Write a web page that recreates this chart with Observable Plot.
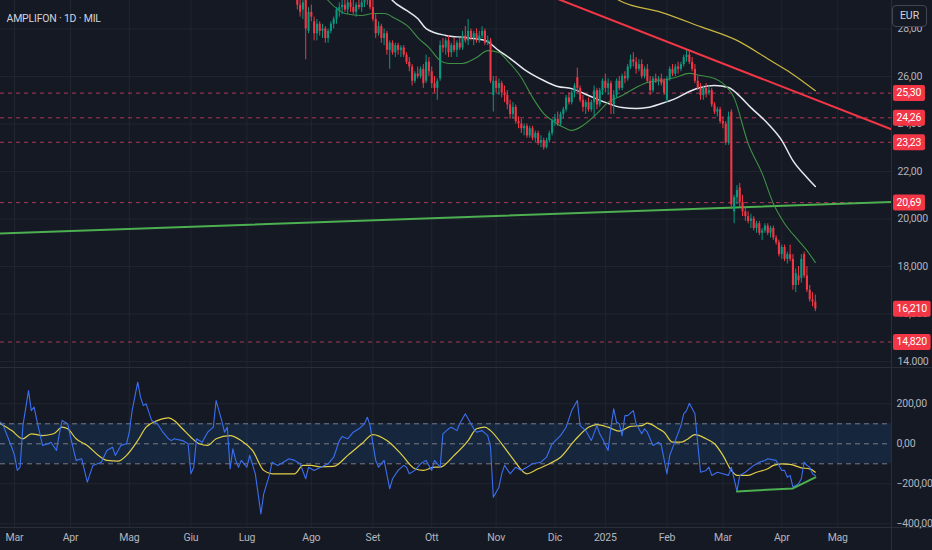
<!DOCTYPE html>
<html><head><meta charset="utf-8">
<script src="https://cdn.jsdelivr.net/npm/d3@7"></script>
<script src="https://cdn.jsdelivr.net/npm/@observablehq/plot@0.6"></script>
<style>
html,body{margin:0;padding:0;background:#151924;}
#wrap{position:relative;width:932px;height:550px;overflow:hidden;background:#151924;font-family:Roboto,"Liberation Sans",sans-serif;}
#wrap svg{position:absolute;left:0;overflow:visible;}
#wrap svg text{letter-spacing:-0.2px;}
#eur{position:absolute;left:892px;top:5px;width:35px;height:22px;border:1px solid #434651;border-radius:4px;background:#151924;color:#d1d4dc;font-size:10.5px;line-height:20px;text-align:center;box-sizing:border-box;}
</style></head><body><div id="wrap"></div>
<script>
// ---------- DATA ----------
const title = "AMPLIFON · 1D · MIL";
const firstBar = 100; // bar index of first candle (bar 0 = 1 Mar 2024)
const opens = [29.8,29.5,29.0,28.8,29.2,27.9,28.7,28.3,27.8,28.2,
 27.9,28.0,27.6,27.9,28.2,28.4,28.8,28.9,29.0,28.8,
 29.1,28.9,28.7,29.0,28.9,29.1,29.3,29.2,28.9,28.4,
 27.8,28.1,27.6,27.8,27.1,27.4,27.0,27.3,27.1,27.2,
 26.9,26.6,26.4,25.8,26.1,26.0,26.3,25.8,26.6,26.2,
 25.7,25.5,25.9,27.3,27.2,27.5,27.0,27.3,27.1,27.4,
 27.2,27.7,27.5,27.9,27.6,27.8,27.5,27.7,27.9,27.4,
 27.5,25.2,25.8,25.5,25.7,25.3,25.2,24.8,24.4,24.7,
 24.1,24.0,23.8,23.9,23.5,23.8,23.4,23.6,23.2,23.3,
 23.0,23.3,23.6,24.1,24.2,24.0,24.4,24.6,25.1,24.9,
 25.3,25.95,25.5,25.0,24.7,24.9,24.6,24.9,25.4,24.8,
 25.4,25.8,25.5,25.7,24.8,25.2,25.8,25.5,26.0,25.9,
 26.4,26.7,26.6,26.3,26.5,26.0,26.3,25.8,25.4,25.9,
 25.8,25.9,25.8,25.0,25.9,26.3,26.1,26.4,26.3,26.5,
 26.8,26.9,26.6,26.3,25.8,25.5,25.2,25.5,25.3,25.4,
 24.8,24.5,24.6,24.1,24.0,23.2,24.5,20.3,20.9,21.3,
 20.7,20.3,20.1,19.9,20.0,19.6,19.8,19.4,19.5,19.7,
 19.4,19.6,19.2,19.0,18.5,18.8,18.3,18.5,18.3,17.2,
 17.6,17.5,18.5,17.6,17.0,16.6,16.5];
const highs = [30.2,29.7,29.4,29.3,29.4,28.9,29.0,28.5,28.4,28.3,
 28.2,28.1,28.0,28.3,28.5,28.9,29.1,29.3,29.4,29.2,
 29.3,29.2,29.1,29.3,29.2,29.5,29.6,29.4,29.2,28.6,
 28.3,28.2,28.0,27.9,27.5,27.5,27.4,27.4,27.3,27.3,
 27.0,26.8,26.5,26.2,26.4,26.4,26.5,26.9,26.8,26.4,
 26.0,25.9,27.5,27.6,27.6,27.7,27.4,27.6,27.5,27.6,
 27.9,28.1,28.4,28.0,27.9,28.0,27.9,28.1,28.0,27.7,
 27.6,26.0,26.0,25.9,25.8,25.6,25.4,25.0,24.9,24.8,
 24.3,24.2,24.0,24.0,23.9,23.9,23.7,23.7,23.5,23.4,
 23.4,23.7,24.2,24.4,24.5,24.5,24.7,25.2,25.3,25.4,
 25.7,26.35,25.6,25.2,25.0,25.1,25.0,25.6,25.5,25.5,
 25.9,26.1,25.9,25.8,25.4,25.9,26.0,26.1,26.2,26.5,
 26.9,27.0,26.8,26.7,26.7,26.4,26.5,26.0,26.0,26.1,
 26.0,26.1,25.9,26.0,26.4,26.5,26.5,26.6,26.6,26.9,
 27.1,27.1,26.8,26.5,26.0,25.7,25.6,25.7,25.6,25.5,
 24.9,24.7,24.7,24.3,24.1,24.5,24.6,21.0,21.4,21.5,
 21.0,20.5,20.3,20.2,20.1,19.9,19.9,19.6,19.8,19.8,
 19.7,19.7,19.3,19.1,18.9,18.9,18.6,18.9,18.5,17.9,
 18.0,18.5,18.6,18.0,17.2,16.9,16.8];
const lows = [29.3,28.8,28.5,28.4,26.7,27.8,28.3,27.5,27.5,27.7,
 27.6,27.4,27.4,27.8,28.0,28.2,28.5,28.6,28.7,28.6,
 28.7,28.6,28.5,28.8,28.7,28.9,29.0,28.8,28.3,27.6,
 27.7,27.4,27.3,26.9,26.3,26.9,26.8,26.9,26.8,26.8,
 26.5,26.2,25.6,25.7,25.9,25.9,25.5,25.7,26.0,25.5,
 25.3,25.0,25.8,27.0,26.9,26.8,26.8,27.0,26.8,27.1,
 27.1,27.4,27.3,27.5,27.3,27.4,27.4,27.6,27.3,27.3,
 25.7,24.5,25.3,25.2,25.1,24.9,24.6,24.2,24.2,24.0,
 23.8,23.6,23.5,23.4,23.4,23.3,23.2,23.1,23.0,22.9,
 22.95,23.2,23.5,23.9,23.9,23.9,24.2,24.5,24.8,24.8,
 25.1,25.3,24.9,24.5,24.4,24.5,24.5,24.3,24.6,24.7,
 25.2,25.3,25.2,24.4,24.4,25.1,25.4,25.4,25.7,25.8,
 26.3,26.4,26.1,26.2,25.9,25.9,25.7,25.2,25.3,25.7,
 25.6,25.6,25.2,24.9,25.8,26.0,26.0,26.1,26.2,26.4,
 26.6,26.5,26.2,25.7,25.4,25.0,25.0,25.1,25.2,24.7,
 24.4,24.3,24.0,23.8,23.1,23.1,20.4,19.8,20.6,20.5,
 20.1,19.9,19.8,19.6,19.5,19.4,19.3,19.1,19.4,19.3,
 19.2,19.1,18.9,18.4,18.3,18.2,18.1,18.2,17.0,16.9,
 17.2,17.3,17.5,16.9,16.5,16.3,16.1];
const closes = [29.5,29.0,28.7,29.1,28.0,28.7,28.5,27.8,28.2,27.9,
 28.0,27.6,27.9,28.2,28.4,28.8,28.9,29.0,28.8,29.1,
 28.9,28.7,29.0,28.9,29.1,29.3,29.2,28.9,28.4,27.8,
 28.1,27.6,27.8,27.1,27.4,27.0,27.3,27.1,27.2,26.9,
 26.6,26.4,25.8,26.1,26.0,26.3,25.7,26.6,26.2,25.7,
 25.5,25.8,27.3,27.2,27.5,27.0,27.3,27.1,27.4,27.2,
 27.7,27.5,27.9,27.6,27.8,27.5,27.7,27.9,27.4,27.5,
 25.8,25.8,25.5,25.7,25.3,25.2,24.8,24.4,24.7,24.1,
 24.0,23.8,23.9,23.5,23.8,23.4,23.6,23.2,23.3,23.0,
 23.3,23.6,24.1,24.2,24.0,24.4,24.6,25.1,24.9,25.3,
 25.6,25.5,25.0,24.7,24.9,24.6,24.9,25.4,24.8,25.4,
 25.8,25.5,25.7,24.8,25.2,25.8,25.5,26.0,25.9,26.4,
 26.7,26.6,26.3,26.5,26.0,26.3,25.8,25.4,25.9,25.8,
 25.9,25.7,25.3,25.9,26.3,26.1,26.4,26.3,26.5,26.8,
 26.9,26.6,26.3,25.8,25.5,25.2,25.5,25.3,25.4,24.8,
 24.5,24.6,24.1,24.0,23.2,24.3,20.6,20.9,21.2,20.7,
 20.3,20.1,19.9,20.0,19.6,19.8,19.4,19.5,19.7,19.4,
 19.6,19.2,19.0,18.5,18.8,18.3,18.5,18.3,17.2,17.7,
 17.4,18.3,17.6,17.0,16.6,16.5,16.21];

// moving averages (bar index, price)
const maFastBars = [110,112,116,118,124,128,132,136,141,144,148,152,155,160,165,169,173,176,181,185,189,192,197,199,203,208,212,217,222,226,231,236,241,245,250,253,257,262,267,271,275,280,283,286];
const maFastVals = [29.5,29.2,28.78,28.65,28.57,28.65,28.65,28.44,28.06,27.64,27.22,26.67,26.55,26.55,26.8,27.09,27.01,26.67,25.96,25.12,24.44,24.15,23.81,23.73,23.94,24.44,24.91,25.2,25.54,25.75,25.83,25.96,26.13,26.04,25.92,25.71,25.1,23.18,21.92,20.65,19.81,19.09,18.67,18.17];
const maMidBars = [133,135,140,144,147,154,161,168,173,178,182,189,194,199,205,211,217,222,226,231,236,241,245,250,255,258,263,269,274,278,283,286];
const maMidVals = [29.5,29.2,28.78,28.44,28.02,27.73,27.64,27.52,27.09,26.67,26.3,25.83,25.58,25.49,25.2,24.91,24.69,24.65,24.69,24.86,25.07,25.37,25.54,25.62,25.54,25.28,24.69,24.02,23.31,22.46,21.75,21.37];
const maSlowBars = [212,216,231,245,258,266,270,277,286];
const maSlowVals = [29.5,29.2,28.7,28.1,27.52,26.97,26.67,26.17,25.4];

// trend lines (bar index, price)
const resistBars = [190, 320];
const resistVals = [29.45, 23.46];
const supportBars = [-10, 320];
const supportVals = [19.37, 20.75];

// horizontal levels
const levelVals = [25.30, 24.26, 23.23, 20.69, 14.82];
const levelLbls = ["25,30", "24,26", "23,23", "20,69", "14,820"];
const lastPrice = 16.21, lastLbl = "16,210";

// price axis
const priceTicks = [28, 26, 24, 22, 20, 18, 16, 14];
const priceTickLbls = ["28,00", "26,00", "24,00", "22,00", "20,000", "18,000", "16,000", "14.000"];

// time axis (bar index of first trading day of each month)
const monthBars = [0, 20, 41, 63, 83, 106, 128, 149, 172, 193, 211, 233, 253, 274, 294];
const monthLbls = ["Mar", "Apr", "Mag", "Giu", "Lug", "Ago", "Set", "Ott", "Nov", "Dic", "2025", "Feb", "Mar", "Apr", "Mag"];

// CCI line (bar index, value)
const cciBars = [-5,-4,-1,0,1,2,3,5,6,7,8,10,12,13,15,16,17,19,20,22,24,26,28,31,33,35,36,38,40,41,42,44,45,46,47,49,51,53,55,56,57,60,62,63,64,65,67,69,71,72,74,75,76,77,78,79,80,81,83,84,86,88,89,91,92,94,96,98,100,102,104,105,107,109,112,114,116,117,119,121,123,125,126,127,128,129,130,132,134,135,137,139,140,141,143,145,147,149,150,152,153,155,156,158,159,161,162,164,165,167,169,170,171,173,174,175,177,179,181,183,185,188,190,192,195,197,199,201,202,204,206,208,209,210,212,213,214,215,216,217,218,219,221,222,224,225,226,228,230,231,233,234,236,238,239,240,241,243,244,245,247,248,249,251,253,255,256,257,258,259,261,264,266,268,269,272,274,275,276,277,278,280,281,282,283,284,285,286];
const cciVals = [108,91,-17,-58,-133,-117,91,266,166,183,116,-8,0,8,-33,50,116,100,33,-83,-75,-192,-108,-92,-33,-17,-58,-8,0,58,166,308,233,191,200,116,100,58,25,16,25,16,0,-150,-117,25,8,58,83,216,116,58,83,-125,-25,-83,-117,-83,-117,-58,-150,-350,-250,-158,-92,-108,-92,-75,-83,-100,-175,-117,-133,-120,-100,-67,16,36,25,58,75,100,133,91,0,-83,-117,-83,-225,-175,-133,-108,-117,-150,-133,-100,-83,-133,-83,-117,50,75,83,66,100,150,125,75,58,66,41,-17,-267,-217,-150,-108,-150,-117,-133,-117,-100,-92,-67,0,41,83,166,216,91,66,16,91,50,25,-33,83,175,108,100,41,141,141,166,100,50,75,58,-8,8,-8,-150,-58,16,91,150,166,203,150,0,-142,-133,-117,-158,-142,-150,-158,-117,-175,-237,-158,-142,-108,-92,-83,-75,-83,-133,-133,-167,-158,-217,-200,-175,-92,-108,-117,-150,-158];
// CCI moving average (bar index, value)
const cciMaBars = [-5,-1,3,6,10,14,17,19,22,26,30,33,37,40,44,47,51,55,57,60,63,66,69,72,77,81,85,89,92,96,100,103,106,109,114,119,124,128,133,138,143,146,150,152,157,162,165,168,170,174,178,183,187,191,195,200,205,208,212,216,220,224,226,230,232,235,238,240,243,247,250,253,256,258,262,265,269,271,274,277,281,284,286];
const cciMaVals = [100,66,25,50,41,50,83,75,25,-8,-58,-83,-87,-58,16,83,116,130,116,75,33,0,-8,25,41,16,-33,-133,-150,-150,-150,-108,-108,-115,-113,-58,0,46,16,-50,-125,-133,-117,-117,-58,16,75,83,66,0,-75,-150,-125,-100,-67,16,83,96,83,63,87,91,103,75,58,8,8,20,46,25,0,-58,-133,-158,-158,-142,-125,-108,-100,-103,-120,-125,-142];
// divergence line on CCI
const divBars = [258, 278, 286];
const divVals = [-238, -223, -168];
const cciLevels = [100, 0, -100];
const cciTicks = [200, 0, -200, -400];
const cciTickLbls = ["200,00", "0,00", "\u2212200,00", "\u2212400,00"];

// ---------- STYLE ----------
const GRID = "#21252f", SEP = "#2a2e39", AXT = "#b2b5be";
const UP = "#089981", DN = "#f23645";
const xDomain = [-5, 313.2];
const priceDomain = [13.747, 29.2];
const cciDomain = [-418.5, 381.5];
const priceLblMap = new Map(priceTicks.map((t, i) => [t, priceTickLbls[i]]));
const monthLblMap = new Map(monthBars.map((t, i) => [t, monthLbls[i]]));
const cciLblMap = new Map(cciTicks.map((t, i) => [t, cciTickLbls[i]]));
const boxLabels = [...levelLbls, lastLbl];

const candles = opens.map((o, k) => ({i: firstBar + k, o, h: highs[k], l: lows[k], c: closes[k]}));
const pairs = (b, v) => b.map((x, k) => ({i: x, v: v[k]}));
const col = d => d.c >= d.o ? UP : DN;
const baseStyle = {background: "transparent", color: AXT, fontFamily: "Roboto, 'Liberation Sans', sans-serif", fontSize: "10.5px", overflow: "visible"};

const main = Plot.plot({
  width: 932, height: 367,
  marginTop: 0, marginBottom: 0, marginLeft: 0, marginRight: 41,
  style: baseStyle,
  color: {type: "identity"},
  x: {domain: xDomain, axis: null, label: null},
  y: {domain: priceDomain, label: null},
  marks: [
    Plot.gridX(monthBars, {stroke: GRID, strokeOpacity: 1}),
    Plot.gridY(priceTicks, {stroke: GRID, strokeOpacity: 1}),
    Plot.ruleY(levelVals, {stroke: "#c2375b", strokeOpacity: 0.9, strokeDasharray: "4,4"}),
    Plot.line(pairs(supportBars, supportVals), {x: "i", y: "v", stroke: "#4caf50", strokeWidth: 2, clip: true}),
    Plot.line(pairs(maSlowBars, maSlowVals), {x: "i", y: "v", stroke: "#c9b740", strokeWidth: 1.2, curve: "monotone-x", clip: true}),
    Plot.line(pairs(maMidBars, maMidVals), {x: "i", y: "v", stroke: "#e6e8ee", strokeWidth: 1.5, curve: "monotone-x", clip: true}),
    Plot.line(pairs(maFastBars, maFastVals), {x: "i", y: "v", stroke: "#3f8f45", strokeWidth: 1.1, curve: "monotone-x", clip: true}),
    Plot.ruleX(candles, {x: "i", y1: "l", y2: "h", stroke: col, strokeWidth: 1, clip: true}),
    Plot.ruleX(candles, {x: "i", y1: "o", y2: "c", stroke: col, strokeWidth: 2.1, clip: true}),
    Plot.line(pairs(resistBars, resistVals), {x: "i", y: "v", stroke: "#f23645", strokeWidth: 2, clip: true}),
    Plot.ruleX([xDomain[1]], {stroke: SEP}),
    Plot.ruleY([priceDomain[0]], {stroke: SEP, insetRight: -41}),
    Plot.axisY(priceTicks, {anchor: "right", tickSize: 0, tickPadding: 6, tickFormat: d => priceLblMap.get(d), label: null}),
    Plot.text([title], {frameAnchor: "top-left", dx: 6, dy: 14, textAnchor: "start", fill: "#d1d4dc", fontSize: 10.5}),
    Plot.text([...levelVals, lastPrice], {y: d => d, text: (d, i) => boxLabels[i], frameAnchor: "right", dx: 5, textAnchor: "start", fill: "#ffffff", fontSize: 10.5})
  ]
});

const cci = Plot.plot({
  width: 932, height: 183,
  marginTop: 0, marginBottom: 23, marginLeft: 0, marginRight: 41,
  style: baseStyle,
  x: {domain: xDomain, label: null},
  y: {domain: cciDomain, label: null},
  marks: [
    Plot.gridX(monthBars, {stroke: GRID, strokeOpacity: 1}),
    Plot.gridY([200, -200, -400], {stroke: GRID, strokeOpacity: 1}),
    Plot.rect([cciLevels], {x1: xDomain[0], x2: xDomain[1], y1: d => d[2], y2: d => d[0], fill: "#2196f3", fillOpacity: 0.12}),
    Plot.ruleY(cciLevels, {stroke: "#787b86", strokeDasharray: "5,4"}),
    Plot.line(pairs(cciMaBars, cciMaVals), {x: "i", y: "v", stroke: "#e0cf47", strokeWidth: 1.2, curve: "monotone-x", clip: true}),
    Plot.line(pairs(cciBars, cciVals), {x: "i", y: "v", stroke: "#3b6ff2", strokeWidth: 1.1, clip: true}),
    Plot.line(pairs(divBars, divVals), {x: "i", y: "v", stroke: "#4caf50", strokeWidth: 2}),
    Plot.ruleX([xDomain[1]], {stroke: SEP, insetBottom: -23}),
    Plot.ruleY([cciDomain[0]], {stroke: SEP, insetRight: -41}),
    Plot.ruleY([cciDomain[1]], {stroke: SEP, insetRight: -41}),
    Plot.axisY(cciTicks, {anchor: "right", tickSize: 0, tickPadding: 5, tickFormat: d => cciLblMap.get(d), label: null}),
    Plot.axisX(monthBars, {anchor: "bottom", tickSize: 0, tickPadding: 6, tickFormat: d => monthLblMap.get(d), label: null})
  ]
});

const wrap = document.getElementById("wrap");
main.style.top = "0px";
cci.style.top = "367px";
wrap.append(main, cci);
const eur = document.createElement("div");
eur.id = "eur"; eur.textContent = "EUR";
wrap.append(eur);

// red boxes behind the price labels
for (const t of main.querySelectorAll("text")) {
  if (!boxLabels.includes(t.textContent.trim())) continue;
  const b = t.getBBox();
  const r = document.createElementNS("http://www.w3.org/2000/svg", "rect");
  r.setAttribute("x", b.x - 3.5);
  r.setAttribute("y", b.y - 1.5);
  r.setAttribute("width", b.width + 7);
  r.setAttribute("height", b.height + 3);
  r.setAttribute("rx", 2);
  r.setAttribute("fill", "#f23645");
  r.setAttribute("stroke", "none");
  const tr = t.getAttribute("transform");
  if (tr) r.setAttribute("transform", tr);
  t.parentNode.insertBefore(r, t);
}
</script></body></html>
